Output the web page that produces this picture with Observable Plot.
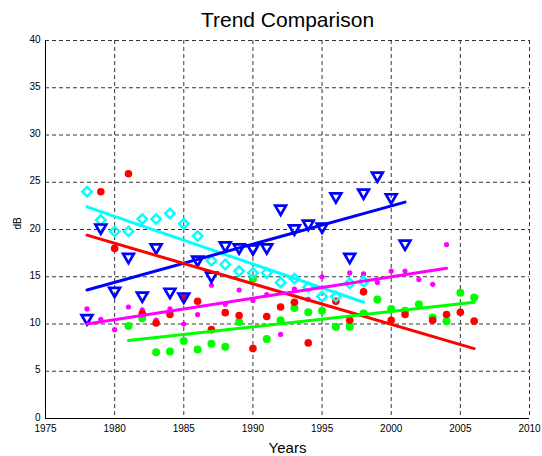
<!DOCTYPE html>
<html><head><meta charset="utf-8">
<script src="https://cdn.jsdelivr.net/npm/d3@7"></script>
<script src="https://cdn.jsdelivr.net/npm/@observablehq/plot@0.6"></script>
<style>body{margin:0;background:#fff} svg{font-family:"Liberation Sans",Arial,sans-serif}</style>
</head><body><div id="chart"></div>
<script>
// Cyan diamonds
const cyanYears = [1978,1979,1980,1981,1982,1983,1984,1985,1986,1987,1988,1989,1990,1991,1992,1993,1994,1995,1996,1997,1998];
const cyanVals  = [24.0,21.0,19.8,19.8,21.1,21.1,21.7,20.6,19.3,16.7,16.3,15.6,15.4,15.4,14.4,14.8,13.9,12.9,12.9,14.3,14.5];
// Blue triangles
const blueYears = [1978,1979,1980,1981,1982,1983,1984,1985,1986,1987,1988,1989,1990,1991,1992,1993,1994,1995,1996,1997,1998,1999,2000,2001];
const blueVals  = [10.6,20.2,13.5,17.1,13.0,18.1,13.4,12.9,16.8,15.1,18.3,18.1,18.0,18.1,22.2,20.1,20.6,20.3,23.5,17.1,23.9,25.7,23.4,18.5];
// Red dots
const redYears = [1979,1980,1981,1982,1983,1984,1985,1986,1987,1988,1989,1990,1991,1992,1993,1994,1996,1997,1998,2000,2001,2003,2004,2005,2006];
const redVals  = [24.0,18.0,25.9,11.1,10.1,11.0,12.8,12.4,9.4,11.2,10.9,7.4,10.8,11.8,12.3,8.0,12.4,10.4,13.4,10.4,11.0,10.4,11.0,11.25,10.3];
// Magenta dots
const magYears = [1978,1979,1980,1981,1982,1983,1984,1985,1986,1987,1988,1989,1990,1991,1992,1993,1994,1995,1997,1998,1999,2000,2001,2002,2003,2004];
const magVals  = [11.6,10.5,9.4,11.8,11.5,10.4,11.6,10.0,11.0,14.1,12.1,13.6,12.5,13.1,8.9,13.7,12.6,15.0,15.4,15.3,14.4,15.6,15.6,14.7,14.2,18.4];
// Green dots
const greenYears = [1981,1982,1983,1984,1985,1986,1987,1988,1989,1990,1991,1992,1993,1994,1995,1996,1997,1998,1999,2000,2001,2002,2003,2004,2005,2006];
const greenVals  = [9.8,10.6,7.0,7.1,8.2,7.3,7.9,7.6,10.2,14.8,8.4,10.4,11.7,11.25,11.4,9.7,9.7,11.1,12.6,11.6,11.4,12.1,10.7,10.3,13.3,12.8];
// Trend lines (endpoints)
const cyanTrendYears = [1978,1998], cyanTrendVals = [22.4,12.3];
const blueTrendYears = [1978,2001], blueTrendVals = [13.6,22.9];
const redTrendYears = [1978,2006], redTrendVals = [19.4,7.4];
const magTrendYears = [1978,2004], magTrendVals = [10.0,15.9];
const greenTrendYears = [1981,2006], greenTrendVals = [8.25,12.3];
// Ticks
const xTicks = [1975,1980,1985,1990,1995,2000,2005,2010];
const yTicks = [0,5,10,15,20,25,30,35,40];

const zip = (xs, ys) => xs.map((x, i) => ({x, y: ys[i]}));
const grid = {stroke:"black", strokeOpacity:1, strokeDasharray:"4,3", strokeWidth:0.8};
const lw = 3;

const chart = Plot.plot({
  width:542, height:456, marginLeft:45, marginRight:13, marginTop:40, marginBottom:38,
  style:{fontFamily:"Liberation Sans, Arial, sans-serif", fontSize:"10px", background:"white", color:"black", overflow:"visible"},
  x:{domain:[1975,2010], label:null},
  y:{domain:[0,40], label:null},
  marks:[
    Plot.gridX(xTicks, grid),
    Plot.gridY(yTicks, grid),
    Plot.ruleX([1975], {stroke:"black", strokeWidth:1}),
    Plot.ruleY([0], {stroke:"black", strokeWidth:1}),
    Plot.axisX(xTicks, {tickSize:0, tickPadding:6, tickFormat:"d", fontSize:10, label:null}),
    Plot.axisY(yTicks, {tickSize:0, tickPadding:5, fontSize:10, label:null, dy:-1}),
    Plot.dot(zip(magYears, magVals), {x:"x", y:"y", r:2.6, fill:"#ff00ff", stroke:"none"}),
    Plot.dot(zip(greenYears, greenVals), {x:"x", y:"y", r:4, fill:"#00ff00", stroke:"none"}),
    Plot.dot(zip(redYears, redVals), {x:"x", y:"y", r:3.8, fill:"#ff0000", stroke:"none"}),
    Plot.dot(zip(cyanYears, cyanVals), {x:"x", y:"y", r:4.3, symbol:"diamond2", fill:"none", stroke:"#00ffff", strokeWidth:2.4}),
    Plot.dot(zip(blueYears, blueVals), {x:"x", y:"y", r:4, symbol:"triangle", rotate:180, fill:"none", stroke:"#0000ff", strokeWidth:2.7}),
    Plot.line(zip(cyanTrendYears, cyanTrendVals), {x:"x", y:"y", stroke:"#00ffff", strokeWidth:lw}),
    Plot.line(zip(blueTrendYears, blueTrendVals), {x:"x", y:"y", stroke:"#0000ff", strokeWidth:lw}),
    Plot.line(zip(redTrendYears, redTrendVals), {x:"x", y:"y", stroke:"#ff0000", strokeWidth:lw}),
    Plot.line(zip(magTrendYears, magTrendVals), {x:"x", y:"y", stroke:"#ff00ff", strokeWidth:lw}),
    Plot.line(zip(greenTrendYears, greenTrendVals), {x:"x", y:"y", stroke:"#00ff00", strokeWidth:lw}),
    Plot.text(["Trend Comparison"], {frameAnchor:"top", lineAnchor:"bottom", dy:-14, fontSize:21, fill:"black"}),
    Plot.text(["Years"], {frameAnchor:"bottom", lineAnchor:"bottom", dy:34, fontSize:15, fill:"black"}),
    Plot.text(["dB"], {frameAnchor:"left", rotate:-90, dx:-28, fontSize:10, fill:"black"})
  ]
});
document.getElementById("chart").appendChild(chart);
</script>
</body></html>
